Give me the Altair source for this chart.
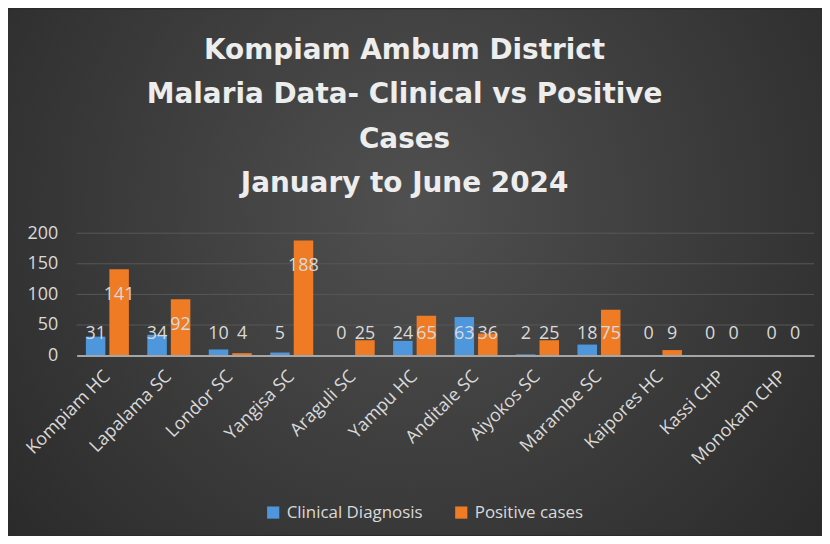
import altair as alt
import pandas as pd

sites = ["Kompiam HC", "Lapalama SC", "Londor SC", "Yangisa SC", "Araguli SC", "Yampu HC",
         "Anditale SC", "Aiyokos SC", "Marambe SC", "Kaipores HC", "Kassi CHP", "Monokam CHP"]
clinical = [31, 34, 10, 5, 0, 24, 63, 2, 18, 0, 0, 0]
positive = [141, 92, 4, 188, 25, 65, 36, 25, 75, 9, 0, 0]
series = ["Clinical Diagnosis", "Positive cases"]
colors = ["#4e97dd", "#f07b25"]
y_ticks = [0, 50, 100, 150, 200]
grid_values = [50, 100, 150, 200]
title_lines = ["Kompiam Ambum District", "Malaria Data- Clinical vs Positive", "Cases",
               "January to June 2024"]

df = pd.DataFrame({
    "site": sites * 2,
    "series": [series[0]] * len(sites) + [series[1]] * len(sites),
    "value": clinical + positive,
})

W, H = 741, 123
PAD = {"left": 69, "top": 225, "right": 8, "bottom": 180}
LABEL = "#d9d9d9"
FONT = "Open Sans"

x_enc = alt.X("site:N", sort=sites, title=None,
              scale=alt.Scale(paddingInner=0.3, paddingOuter=0.15),
              axis=alt.Axis(labelAngle=-45, labelAlign="right", labelBaseline="middle",
                            labelFontSize=18, labelFont=FONT, labelColor=LABEL, labelPadding=18,
                            ticks=False, domainColor="#a6a6a6", domainWidth=2, grid=False,
                            labelOverlap=False, zindex=1))
xoff_enc = alt.XOffset("series:N", sort=series, scale=alt.Scale(paddingInner=0.17))

y_scale = alt.Scale(domain=[0, 200], nice=False)
y_axis = alt.Axis(values=y_ticks, grid=False, domain=False, ticks=False,
                  labelFontSize=18, labelFont=FONT, labelColor=LABEL,
                  labelOverlap=False, labelPadding=19, zindex=1)

bg_grad = alt.RadialGradient(
    gradient="radial", x1=0.5, y1=0.42, r1=0, x2=0.5, y2=0.42, r2=0.72,
    stops=[alt.GradientStop(offset=0, color="#505050"),
           alt.GradientStop(offset=1, color="#262626")])

bg = alt.Chart(pd.DataFrame({"bg": [0]})).mark_rect(fill=bg_grad).encode(
    x=alt.value(-PAD["left"]), x2=alt.value(W + PAD["right"]),
    y=alt.value(-PAD["top"]), y2=alt.value(H + PAD["bottom"]))

grid = alt.Chart(pd.DataFrame({"g": grid_values})).mark_rule(color="#585858", strokeWidth=1).encode(
    y=alt.Y("g:Q", title=None, scale=y_scale, axis=y_axis))

bars = alt.Chart(df).mark_bar().encode(
    x=x_enc,
    xOffset=xoff_enc,
    y=alt.Y("value:Q", title=None, scale=y_scale, axis=y_axis),
    color=alt.Color("series:N", scale=alt.Scale(domain=series, range=colors),
                    legend=alt.Legend(orient="none", legendX=189, legendY=272,
                                      direction="horizontal", title=None,
                                      symbolType="square", symbolSize=150,
                                      symbolStrokeWidth=0,
                                      labelFontSize=17, labelFont=FONT, labelColor=LABEL,
                                      columnPadding=30, labelOffset=5, zindex=1)),
)

text = alt.Chart(df).transform_calculate(
    label_pos="max(datum.value - 42, 35.5)"
).mark_text(baseline="middle", fontSize=18, font=FONT, color=LABEL).encode(
    x=x_enc,
    xOffset=xoff_enc,
    y=alt.Y("label_pos:Q", title=None, scale=y_scale, axis=y_axis),
    text=alt.Text("value:Q"),
)

chart = alt.layer(bg, grid, bars, text).properties(
    width=W, height=H,
    padding=PAD,
    autosize=alt.AutoSizeParams(type="none"),
    title=alt.TitleParams(text=title_lines, fontSize=28, font="DejaVu Sans", fontWeight="bold",
                          color="#ededed", lineHeight=44.7, anchor="middle", dx=-41,
                          offset=-190, zindex=1),
).configure(background="#2b2b2b").configure_view(stroke=None)

chart.save("out.html", embed_options={"renderer": "svg", "actions": False})
